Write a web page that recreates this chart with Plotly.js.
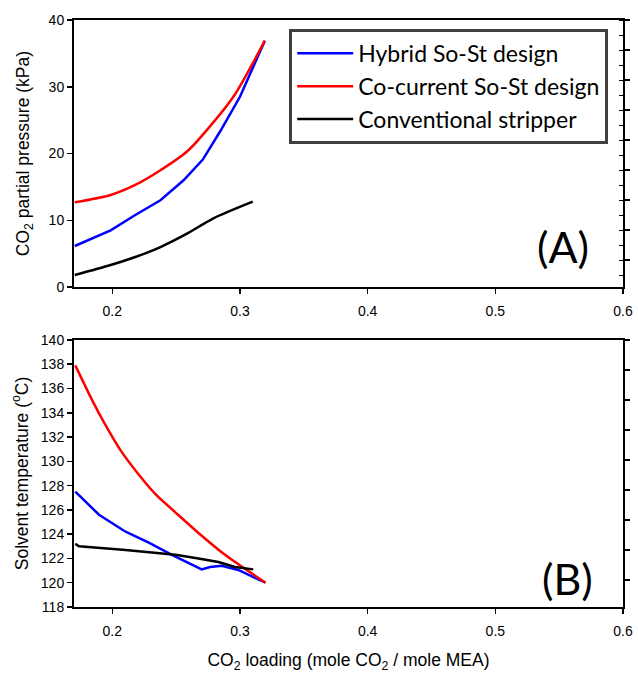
<!DOCTYPE html>
<html>
<head>
<meta charset="utf-8">
<script src="https://cdn.plot.ly/plotly-3.0.1.min.js"></script>
<style>html,body{margin:0;padding:0;background:#fff;}#chart{width:638px;height:677px;}</style>
</head>
<body>
<div id="chart"></div>
<script>
// ---- Data ----
// Panel A: CO2 partial pressure (kPa) vs CO2 loading
var hybLoadA = [0.1706, 0.1987, 0.218, 0.2377, 0.2558, 0.2709, 0.2844, 0.300, 0.3195];
var hybPress = [6.15, 8.5, 10.8, 13.0, 16.0, 19.1, 23.3, 28.5, 36.9];
var ccLoadA  = [0.1706, 0.1987, 0.218, 0.2377, 0.2585, 0.2753, 0.2948, 0.3195];
var ccPress  = [12.7, 13.8, 15.3, 17.5, 20.3, 23.8, 28.5, 36.9];
var convLoadA = [0.1706, 0.1987, 0.218, 0.2377, 0.2585, 0.2792, 0.31];
var convPress = [1.8, 3.3, 4.5, 6.0, 8.0, 10.3, 12.8];

// Panel B: solvent temperature (°C) vs CO2 loading
var hybLoadB = [0.171, 0.1896, 0.2104, 0.2286, 0.2467, 0.27, 0.2766, 0.2857, 0.2987, 0.32];
var hybTemp  = [127.5, 125.6, 124.2, 123.3, 122.3, 121.1, 121.3, 121.4, 121.05, 120.0];
var ccLoadB  = [0.171, 0.1844, 0.1935, 0.2065, 0.2208, 0.2338, 0.2494, 0.2675, 0.2883, 0.32];
var ccTemp   = [137.9, 135.0, 133.2, 130.9, 128.9, 127.3, 125.8, 124.1, 122.3, 120.0];
var convLoadB = [0.171, 0.174, 0.2104, 0.2494, 0.2675, 0.2831, 0.2961, 0.3104];
var convTemp  = [123.2, 123.0, 122.7, 122.3, 122.0, 121.7, 121.3, 121.1];

var seriesNames = ['Hybrid So-St design', 'Co-current So-St design', 'Conventional stripper'];
var xTickVals = [0.2, 0.3, 0.4, 0.5, 0.6];
var xTickText = ['0.2', '0.3', '0.4', '0.5', '0.6'];

var BLUE = '#0000ff', RED = '#ff0000', BLACK = '#000000';
function tr(x, y, name, color, xa, ya, show, shape) {
  return {x: x, y: y, name: name, type: 'scatter', mode: 'lines',
          line: {color: color, width: 2.5, shape: shape || 'linear', smoothing: 0.8},
          xaxis: xa, yaxis: ya, showlegend: show};
}
var data = [
  tr(hybLoadA, hybPress, seriesNames[0], BLUE, 'x', 'y', true, 'linear'),
  tr(ccLoadA, ccPress, seriesNames[1], RED, 'x', 'y', true, 'spline'),
  tr(convLoadA, convPress, seriesNames[2], BLACK, 'x', 'y', true, 'spline'),
  tr(hybLoadB, hybTemp, seriesNames[0], BLUE, 'x2', 'y2', false, 'linear'),
  tr(ccLoadB, ccTemp, seriesNames[1], RED, 'x2', 'y2', false, 'spline'),
  tr(convLoadB, convTemp, seriesNames[2], BLACK, 'x2', 'y2', false, 'linear')
];

var tickFont = {family: 'Liberation Sans, Arial, sans-serif', size: 14, color: '#000'};
var axBase = {showgrid: false, zeroline: false, showline: true, linecolor: '#000', linewidth: 2,
              ticks: 'outside', ticklen: 5, tickwidth: 1.5, tickcolor: '#000', tickfont: tickFont};
var titleFont = {family: 'Liberation Sans, Arial, sans-serif', size: 17.5, color: '#000'};

var layout = {
  width: 638, height: 677,
  margin: {l: 74, r: 15, t: 20, b: 70},
  paper_bgcolor: '#fff', plot_bgcolor: '#fff',
  font: {family: 'Liberation Sans, Arial, sans-serif', color: '#000'},
  showlegend: true,
  legend: {x: 0.392, y: 0.985, xanchor: 'left', yanchor: 'top',
           bordercolor: '#404040', borderwidth: 3, bgcolor: '#fff',
           font: {family: 'Lato, sans-serif', size: 23, color: '#000'},
           itemwidth: 56, tracegroupgap: 0},
  xaxis: Object.assign({}, axBase, {domain: [0, 1], range: [0.17, 0.6], anchor: 'y',
           tickvals: xTickVals, ticktext: xTickText, mirror: true, ticklabelstandoff: 5}),
  yaxis: Object.assign({}, axBase, {domain: [0.545, 1], range: [0, 40], dtick: 10, anchor: 'x',
           title: {text: 'CO<sub>2</sub> partial pressure (kPa)', font: titleFont, standoff: 14}}),
  xaxis2: Object.assign({}, axBase, {domain: [0, 1], range: [0.17, 0.6], anchor: 'y2',
           tickvals: xTickVals, ticktext: xTickText, mirror: true, ticklabelstandoff: 5,
           title: {text: 'CO<sub>2</sub> loading (mole CO<sub>2</sub> / mole MEA)', font: titleFont, standoff: 16}}),
  yaxis2: Object.assign({}, axBase, {domain: [0, 0.455], range: [118, 140], dtick: 2, anchor: 'x2',
           title: {text: 'Solvent temperature (<sup>o</sup>C)', font: titleFont, standoff: 8}}),
  // right-hand tick axes (no labels), as drawn in the reference
  yaxis3: {overlaying: 'y', side: 'right', anchor: 'x', range: [0, 8.9], tick0: 0.9, dtick: 1,
           showticklabels: false, showgrid: false, zeroline: false, showline: true,
           linecolor: '#000', linewidth: 2, ticks: 'outside', ticklen: 5, tickwidth: 1.5, tickcolor: '#000',
           minor: {ticks: 'inside', ticklen: 4, tickwidth: 1, tickcolor: '#000', dtick: 0.5, tick0: 0.9, showgrid: false}},
  yaxis4: {overlaying: 'y2', side: 'right', anchor: 'x2', range: [0, 8.9], tick0: 0.9, dtick: 1,
           showticklabels: false, showgrid: false, zeroline: false, showline: true,
           linecolor: '#000', linewidth: 2, ticks: 'outside', ticklen: 5, tickwidth: 1.5, tickcolor: '#000'},
  annotations: [
    {text: '(A)', xref: 'paper', yref: 'paper', x: 0.891, y: 0.614, xanchor: 'center', yanchor: 'middle',
     showarrow: false, font: {family: 'Lato, sans-serif', size: 43, color: '#000'}},
    {text: '(B)', xref: 'paper', yref: 'paper', x: 0.898, y: 0.049, xanchor: 'center', yanchor: 'middle',
     showarrow: false, font: {family: 'Lato, sans-serif', size: 43, color: '#000'}}
  ]
};
// invisible traces to attach the right-hand tick axes
data.push({x: [0.17], y: [0], xaxis: 'x', yaxis: 'y3', mode: 'markers', marker: {opacity: 0}, showlegend: false, hoverinfo: 'skip'});
data.push({x: [0.17], y: [0], xaxis: 'x2', yaxis: 'y4', mode: 'markers', marker: {opacity: 0}, showlegend: false, hoverinfo: 'skip'});

Plotly.newPlot('chart', data, layout, {displayModeBar: false, staticPlot: true});
</script>
</body>
</html>
